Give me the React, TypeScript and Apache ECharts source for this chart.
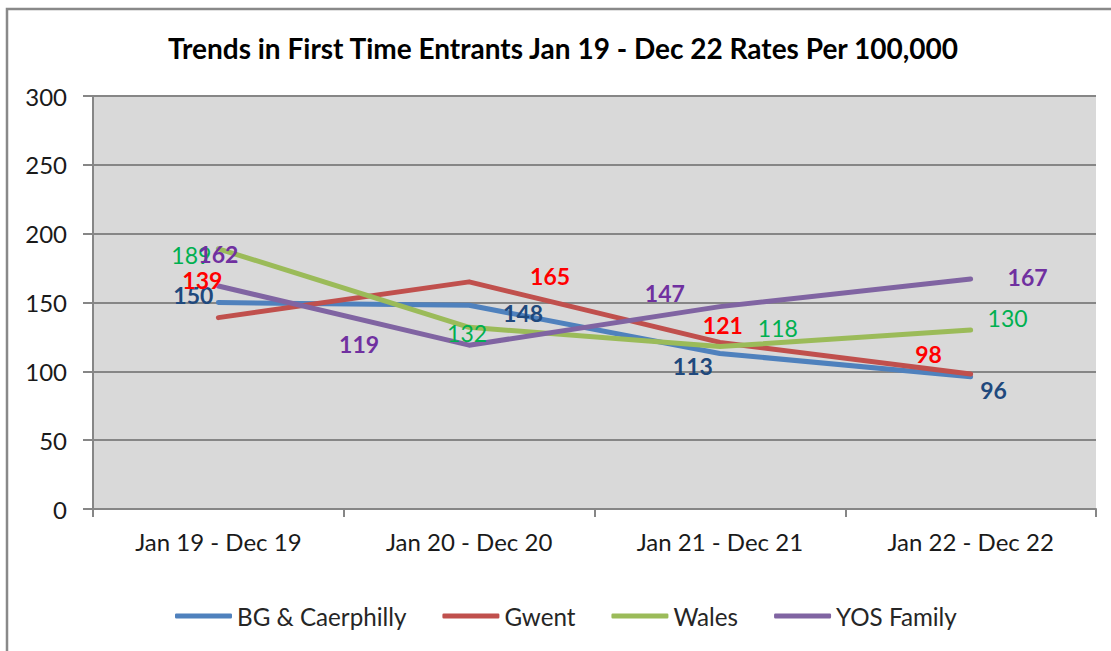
import React, { useEffect, useRef } from "react";
import * as echarts from "echarts";

const categories = ["Jan 19 - Dec 19", "Jan 20 - Dec 20", "Jan 21 - Dec 21", "Jan 22 - Dec 22"];
const seriesNames = ["BG & Caerphilly", "Gwent", "Wales", "YOS Family"];
const bgCaerphilly = [150, 148, 113, 96];
const gwent = [139, 165, 121, 98];
const wales = [189, 132, 118, 130];
const yosFamily = [162, 119, 147, 167];
const yMin = 0;
const yMax = 300;
const yInterval = 50;
const titleText = "Trends in First Time Entrants Jan 19 - Dec 22 Rates Per 100,000";

const FONT = "Lato";

// label placement (layout only), [dx, dy] from each point
const labelOffsets: number[][][] = [
  [[-25, -8], [54, 8], [-27, 13], [23, 13]],
  [[-16, -38], [81, -6], [3, -17], [-42, -20]],
  [[-27, 6], [-2, 6], [58, -19], [37, -12]],
  [[0, -32], [-110, -1], [-55, -14], [57, -2]],
];
const lineColors = ["#4F81BD", "#C0504D", "#9BBB59", "#8064A2"];
const labelColors = ["#1F497D", "#FF0000", "#00B050", "#7030A0"];
const labelWeights = ["bold", "bold", "normal", "bold"];

export default function App() {
  const ref = useRef<HTMLDivElement>(null);
  useEffect(() => {
    document.body.style.margin = "0";
    const chart = echarts.init(ref.current!, null, { renderer: "svg" });
    const values = [bgCaerphilly, gwent, wales, yosFamily];
    const option: any = {
      animation: false,
      backgroundColor: "#FFFFFF",
      title: {
        text: titleText,
        left: 163,
        top: 29,
        textStyle: { fontFamily: FONT, fontSize: 28, fontWeight: "bold", color: "#000000" },
      },
      graphic: [
        {
          type: "rect",
          shape: { x: 7, y: 9, width: 1300, height: 900 },
          style: { fill: "none", stroke: "#898989", lineWidth: 2.5 },
          silent: true,
          z: 100,
        },
      ],
      legend: {
        bottom: 18,
        left: 170,
        itemWidth: 57,
        itemHeight: 5,
        itemGap: 36,
        itemTextGap: 5,
        icon: "roundRect",
        textStyle: { fontFamily: FONT, fontSize: 24.2, color: "#262626" },
        data: seriesNames,
      },
      grid: {
        left: 93,
        right: 15,
        top: 96,
        bottom: 142,
        show: true,
        backgroundColor: "#D9D9D9",
        borderWidth: 0,
      },
      xAxis: {
        type: "category",
        data: categories,
        boundaryGap: true,
        axisLine: { show: true, lineStyle: { color: "#868686", width: 2 } },
        axisTick: { show: true, length: 8, lineStyle: { color: "#868686", width: 2 } },
        axisLabel: { fontFamily: FONT, fontSize: 24, color: "#1a1a1a", margin: 20 },
        splitLine: { show: false },
      },
      yAxis: {
        type: "value",
        min: yMin,
        max: yMax,
        interval: yInterval,
        axisLine: { show: true, lineStyle: { color: "#868686", width: 2 } },
        axisTick: { show: true, length: 10, lineStyle: { color: "#868686", width: 2 } },
        axisLabel: { fontFamily: FONT, fontSize: 24, color: "#1a1a1a", margin: 26 },
        splitLine: { show: true, lineStyle: { color: "#868686", width: 2 } },
      },
      series: seriesNames.map((name, s) => ({
        name,
        type: "line",
        symbol: "circle",
        symbolSize: 0.1,
        showSymbol: true,
        itemStyle: { color: lineColors[s] },
        lineStyle: { color: lineColors[s], width: 5, cap: "round", join: "round" },
        label: {
          show: true,
          position: "inside",
          align: "center",
          verticalAlign: "middle",
          fontFamily: FONT,
          fontSize: 23,
          fontWeight: labelWeights[s],
          color: labelColors[s],
        },
        data: values[s].map((v, i) => ({ value: v, label: { offset: labelOffsets[s][i] } })),
      })),
    };
    chart.setOption(option);
    return () => chart.dispose();
  }, []);
  return (
    <div
      ref={ref}
      style={{ position: "absolute", left: 0, top: 0, width: 1111, height: 651 }}
    />
  );
}
